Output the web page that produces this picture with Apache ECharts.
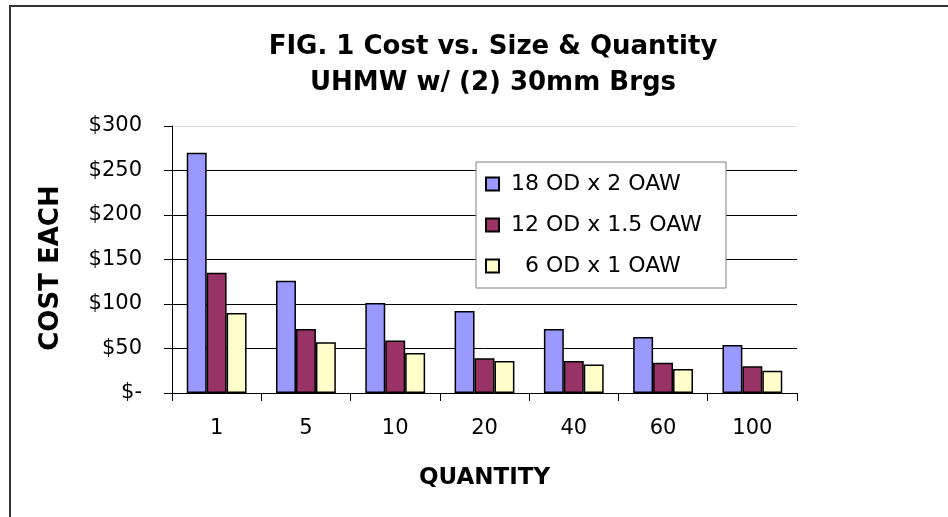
<!DOCTYPE html>
<html>
<head>
<meta charset="utf-8">
<script src="https://cdn.jsdelivr.net/npm/echarts@6/dist/echarts.min.js"></script>
<style>
html,body{margin:0;padding:0;background:#fff;}
#c{width:948px;height:517px;}
</style>
</head>
<body>
<div id="c"></div>
<script>
const categories = ['1', '5', '10', '20', '40', '60', '100'];
const seriesNames = ['18 OD x 2 OAW', '12 OD x 1.5 OAW', '  6 OD x 1 OAW'];
const od18 = [270, 126, 101, 92, 72, 63, 54];
const od12 = [135, 72, 59, 39, 36, 34, 30];
const od6 = [90, 57, 45, 36, 32, 27, 25];
const yTicks = [0, 50, 100, 150, 200, 250, 300];

const FONT = 'DejaVu Sans';
const chart = echarts.init(document.getElementById('c'), null, {renderer: 'canvas'});
const barBorder = {borderColor: '#000', borderWidth: 1.5};
chart.setOption({
  animation: false,
  backgroundColor: '#fff',
  textStyle: {fontFamily: FONT, color: '#000'},
  title: {
    text: 'FIG. 1 Cost vs. Size & Quantity\nUHMW w/ (2) 30mm Brgs',
    left: 488, textAlign: 'center', top: 24,
    textStyle: {fontFamily: FONT, fontWeight: 'bold', fontSize: 26, lineHeight: 36, color: '#000'}
  },
  grid: {left: 172, right: 151, top: 126, bottom: 124, containLabel: false},
  legend: {
    orient: 'vertical', left: 476, top: 162, padding: [11, 9, 11, 9],
    itemWidth: 13, itemHeight: 13, itemGap: 19, z: 10, icon: 'rect',
    formatter: n => ' ' + n,
    textStyle: {fontFamily: FONT, fontSize: 22, lineHeight: 22, color: '#000'},
    data: seriesNames
  },
  xAxis: {
    type: 'category', data: categories,
    name: 'QUANTITY', nameLocation: 'middle', nameGap: 74,
    nameTextStyle: {fontFamily: FONT, fontWeight: 'bold', fontSize: 23, color: '#000'},
    axisLine: {lineStyle: {color: '#000', width: 1}},
    axisTick: {show: true, length: 8, lineStyle: {color: '#000'}},
    axisLabel: {fontFamily: FONT, fontSize: 21, color: '#000', margin: 25},
    splitLine: {show: false}
  },
  yAxis: {
    type: 'value', min: yTicks[0], max: yTicks[yTicks.length - 1], interval: yTicks[1] - yTicks[0],
    name: 'COST EACH', nameLocation: 'middle', nameGap: 108, nameRotate: 90,
    nameTextStyle: {fontFamily: FONT, fontWeight: 'bold', fontSize: 26, color: '#000', padding: [0, 17, 0, 0]},
    axisLine: {show: true, lineStyle: {color: '#000', width: 1}},
    axisTick: {show: true, length: 8, lineStyle: {color: '#000'}},
    axisLabel: {fontFamily: FONT, fontSize: 21, color: '#000', margin: 30,
      formatter: v => v === 0 ? '$-' : '$' + v},
    splitLine: {show: true, lineStyle: {color: ['#000', '#000', '#000', '#000', '#000', '#000', '#d8d8d8'], width: 1}}
  },
  graphic: [
    {type: 'rect', z: -1, shape: {x: 10, y: 6, width: 1200, height: 1200},
      style: {fill: 'none', stroke: '#333', lineWidth: 2}},
    {type: 'rect', z: 5, shape: {x: 476, y: 162, width: 250, height: 126},
      style: {fill: '#fff', stroke: '#808080', lineWidth: 1}}
  ],
  series: [
    {name: seriesNames[0], type: 'bar', data: od18, barGap: '0%', barCategoryGap: '33%',
      itemStyle: Object.assign({color: '#9999FF'}, barBorder)},
    {name: seriesNames[1], type: 'bar', data: od12, barGap: '0%', barCategoryGap: '33%',
      itemStyle: Object.assign({color: '#993366'}, barBorder)},
    {name: seriesNames[2], type: 'bar', data: od6, barGap: '0%', barCategoryGap: '33%',
      itemStyle: Object.assign({color: '#FFFFCC'}, barBorder)}
  ]
});
</script>
</body>
</html>
